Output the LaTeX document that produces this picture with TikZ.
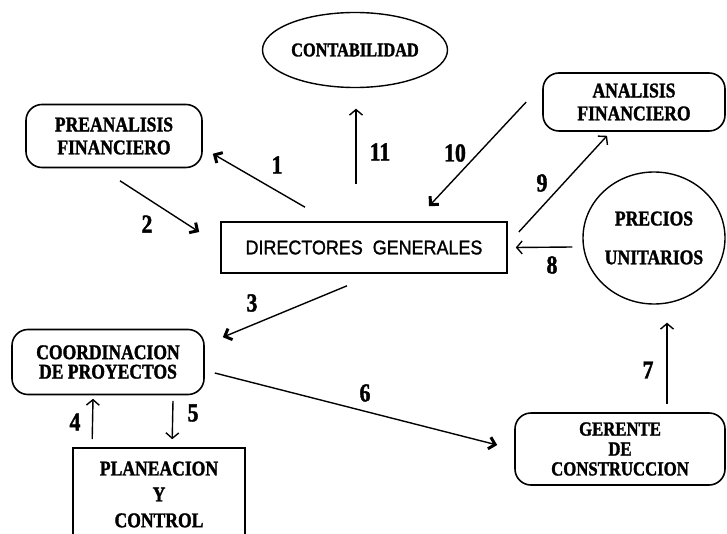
\documentclass[tikz,border=0pt]{standalone}
\usepackage{fontspec}
\setmainfont{Liberation Serif}
\newfontfamily\tnr[FakeStretch=0.84,FakeBold=1.5]{Liberation Serif}
\newfontfamily\dsans[FakeStretch=0.9,UprightFeatures={FakeBold=1.3}]{Liberation Sans}
\usetikzlibrary{shapes.geometric,arrows.meta}
\begin{document}
\begin{tikzpicture}[x=1bp,y=-1bp,
  box/.style={draw,line width=1.6pt,inner sep=0pt,align=center,
    font=\tnr\bfseries\fontsize{21}{23}\selectfont},
  rbox/.style={box,rounded corners=16bp},
  ebox/.style={box,ellipse,line width=1.4pt},
  conn/.style={line width=1.4pt},
  light/.style={conn,-{Straight Barb[length=5.5pt,width=13pt,line width=1.4pt]}},
  heavy/.style={conn,-{Straight Barb[length=6pt,width=12pt,line width=3pt]}},
  num/.style={font=\tnr\bfseries\fontsize{26}{26}\selectfont,inner sep=0pt}]
\useasboundingbox (0,0) rectangle (727,534);
\clip (0,0) rectangle (727,534);
\fill[white] (0,0) rectangle (727,534);

% nodes
\node[ebox,minimum width=185bp,minimum height=75bp,
  font=\tnr\bfseries\fontsize{19.5}{19.5}\selectfont] (cont) at (355,50) {CONTABILIDAD};
\node[rbox,minimum width=176bp,minimum height=63bp] (pre) at (114,136) {PREANALISIS\\FINANCIERO};
\node[box,minimum width=286bp,minimum height=51bp,
  font=\dsans\fontsize{20}{20}\selectfont] (dir) at (364,247.5) {DIRECTORES\hspace{0.5em}GENERALES};
\node[rbox,minimum width=182bp,minimum height=58bp] (ana) at (634,102) {ANALISIS\\FINANCIERO};
\node[ebox,minimum width=142bp,minimum height=132bp] (prec) at (654,238) {PRECIOS\\[16pt]UNITARIOS};
\node[rbox,minimum width=192bp,minimum height=65bp,
  font=\tnr\bfseries\fontsize{21}{19.5}\selectfont] (coord) at (108,362) {COORDINACION\\DE PROYECTOS};
\node[rbox,minimum width=210bp,minimum height=72bp,
  font=\tnr\bfseries\fontsize{20}{20}\selectfont] (ger) at (620,449) {GERENTE\\DE\\CONSTRUCCION};
\node[box,minimum width=172bp,minimum height=93bp,
  font=\tnr\bfseries\fontsize{21}{26}\selectfont] (plan) at (159,494.5) {PLANEACION\\Y\\CONTROL};

% connectors
\draw[heavy] ([shift={(-59,-14)}]dir.north) -- ([shift={(10,-14.5)}]pre.south east);
\draw[heavy] ([shift={(6,12.5)}]pre.south) -- ([shift={(-21,-15.5)}]dir.west);
\draw[light] ([shift={(-8,-37)}]dir.north) -- ([shift={(1,20.5)}]cont.south);
\draw[heavy] ([shift={(-16,0)}]ana.west) -- ([shift={(65,-15)}]dir.north);
\draw[light] ([shift={(11,-15.5)}]dir.east) -- ([shift={(-27,4)}]ana.south);
\draw[light] ([shift={(-10,9)}]prec.west) -- ([shift={(8,0)}]dir.east);
\draw[heavy] ([shift={(-17,12)}]dir.south) -- ([shift={(18,8.5)}]coord.north east);
\draw[heavy] ([shift={(10,11)}]coord.east) -- ([shift={(-17,-4)}]ger.west);
\draw[light] ([shift={(47,-8)}]ger.north) -- ([shift={(13,18)}]prec.south);
\draw[light] ([shift={(20,-8)}]plan.north west) -- ([shift={(-15,3.5)}]coord.south);
\draw[light] ([shift={(65,5.5)}]coord.south) -- ([shift={(100,-8)}]plan.north west);

% labels
\node[num] (l1) at (277,165) {1};
\node[num] (l2) at (147,224) {2};
\node[num] (l3) at (252,303) {3};
\node[num] (l4) at (75,422) {4};
\node[num] (l5) at (193,413) {5};
\node[num] (l6) at (365,393) {6};
\node[num] (l7) at (648,370) {7};
\node[num] (l8) at (552,265) {8};
\node[num] (l9) at (542,183) {9};
\node[num] (l10) at (455,153) {10};
\node[num] (l11) at (380,152) {11};
\end{tikzpicture}
\end{document}
